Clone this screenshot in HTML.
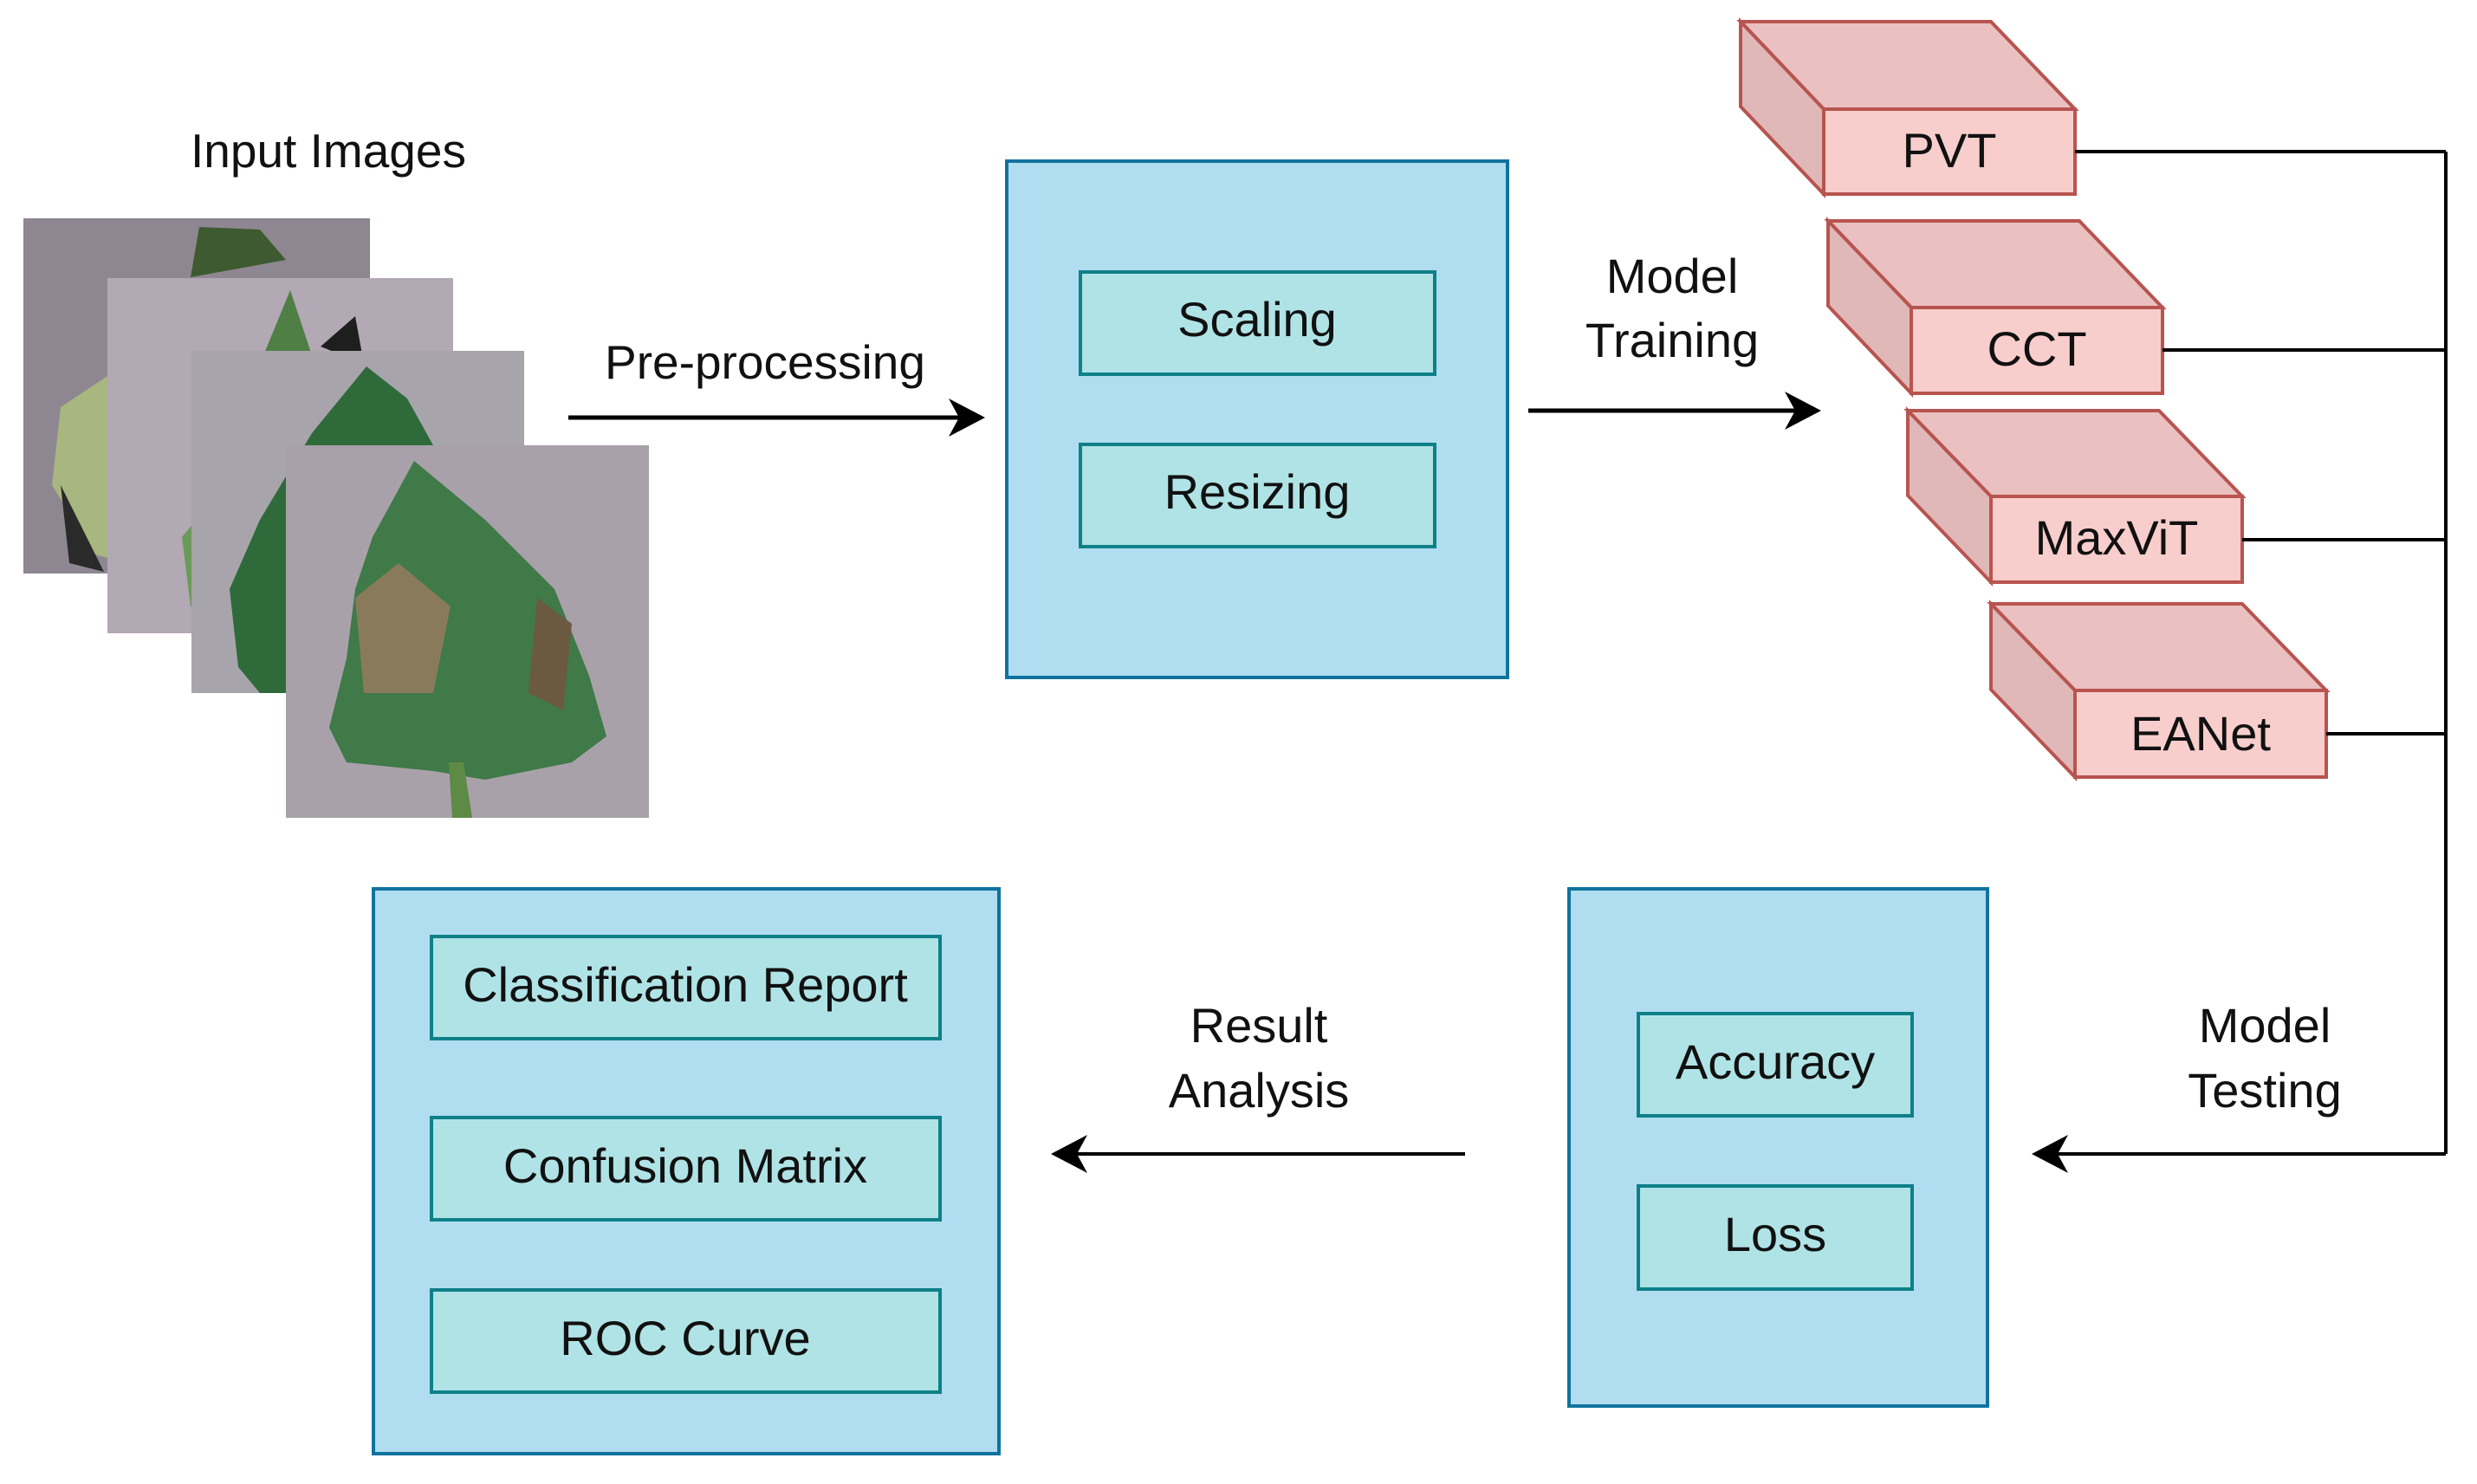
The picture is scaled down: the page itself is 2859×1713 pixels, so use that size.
<!DOCTYPE html>
<html><head><meta charset="utf-8"><style>
html,body{margin:0;padding:0;background:#fff}
svg{display:block}
text{font-family:"Liberation Sans",sans-serif;fill:#111}
</style></head><body>
<svg width="2859" height="1713" viewBox="0 0 2859 1713" xmlns="http://www.w3.org/2000/svg">
<rect width="2859" height="1713" fill="#fff"/>
<text x="379" y="193" font-size="55" text-anchor="middle">Input Images</text>
<!-- images -->
<rect x="27" y="252" width="400" height="410" fill="#8e8791"/>
<path d="M230 262 L300 265 L330 300 L220 320Z" fill="#3d5a30"/>
<path d="M110 640 L60 560 L70 470 L130 430 L200 420 L180 660Z" fill="#a8b680"/>
<path d="M70 560 L80 650 L120 660Z" fill="#2a2a2a"/>
<rect x="124" y="321" width="399" height="410" fill="#b2a9b4"/>
<path d="M300 420 L335 335 L360 410 L410 400 L380 480Z" fill="#4f7f45"/>
<path d="M370 400 L410 365 L420 420Z" fill="#1e1e1e"/>
<path d="M220 700 L210 620 L260 560 L240 720Z" fill="#6a9a5a"/>
<rect x="221" y="405" width="384" height="395" fill="#a8a4ab"/>
<path d="M275 770 L265 680 L300 600 L360 500 L423 423 L470 460 L500 514 L380 800 L300 800Z" fill="#2f6a3a"/>
<rect x="330" y="514" width="419" height="430" fill="#a9a1aa"/>
<path d="M478 532 L560 600 L640 680 L680 780 L700 850 L660 880 L560 900 L500 890 L400 880 L380 840 L400 760 L410 680 L430 620Z" fill="#3f7a48"/>
<path d="M410 690 L460 650 L520 700 L500 800 L420 800Z" fill="#8a7a5c"/>
<path d="M620 690 L660 720 L650 820 L610 800Z" fill="#6b5a40"/>
<path d="M518 880 L535 880 L545 944 L522 944Z" fill="#5d8a45"/>
<!-- pre-processing -->
<text x="883" y="437" font-size="55" text-anchor="middle">Pre-processing</text>
<line x1="656" y1="482" x2="1120" y2="482" stroke="#000" stroke-width="5"/>
<path d="M1137 482 L1095 460 L1107 482 L1095 504Z" fill="#000"/>
<rect x="1162" y="186" width="578" height="596" fill="#b1ddf0" stroke="#10739e" stroke-width="4"/>
<rect x="1247" y="314" width="409" height="118" fill="#b0e3e6" stroke="#0e8088" stroke-width="4"/>
<text x="1451" y="388" font-size="56" text-anchor="middle">Scaling</text>
<rect x="1247" y="513" width="409" height="118" fill="#b0e3e6" stroke="#0e8088" stroke-width="4"/>
<text x="1451" y="587" font-size="56" text-anchor="middle">Resizing</text>
<!-- model training -->
<text x="1930" y="338" font-size="56" text-anchor="middle">Model</text>
<text x="1930" y="412" font-size="56" text-anchor="middle">Training</text>
<line x1="1764" y1="474" x2="2085" y2="474" stroke="#000" stroke-width="5"/>
<path d="M2102 474 L2060 452 L2072 474 L2060 496Z" fill="#000"/>
<!-- 3D boxes -->
<g stroke="#b85450" stroke-width="4" stroke-linejoin="miter">
<path d="M2009 25 L2298 25 L2395 126 L2105 126Z" fill="#ebc0c0"/>
<path d="M2009 25 L2105 126 L2105 224 L2009 123Z" fill="#e0b8b8"/>
<rect x="2105" y="126" width="290" height="98" fill="#f8cecc"/>
<path d="M2110 255 L2400 255 L2496 355 L2206 355Z" fill="#ebc0c0"/>
<path d="M2110 255 L2206 355 L2206 454 L2110 353Z" fill="#e0b8b8"/>
<rect x="2206" y="355" width="290" height="99" fill="#f8cecc"/>
<path d="M2202 474 L2492 474 L2588 573 L2298 573Z" fill="#ebc0c0"/>
<path d="M2202 474 L2298 573 L2298 672 L2202 572Z" fill="#e0b8b8"/>
<rect x="2298" y="573" width="290" height="99" fill="#f8cecc"/>
<path d="M2298 697 L2588 697 L2685 797 L2395 797Z" fill="#ebc0c0"/>
<path d="M2298 697 L2395 797 L2395 897 L2298 796Z" fill="#e0b8b8"/>
<rect x="2395" y="797" width="290" height="100" fill="#f8cecc"/>
</g>
<text x="2250" y="193" font-size="56" text-anchor="middle">PVT</text>
<text x="2351" y="422" font-size="56" text-anchor="middle">CCT</text>
<text x="2443" y="640" font-size="56" text-anchor="middle">MaxViT</text>
<text x="2540" y="866" font-size="56" text-anchor="middle">EANet</text>
<!-- connectors -->
<g stroke="#000" stroke-width="4" fill="none">
<line x1="2395" y1="175" x2="2823" y2="175"/>
<line x1="2496" y1="404" x2="2823" y2="404"/>
<line x1="2588" y1="623" x2="2823" y2="623"/>
<line x1="2685" y1="847" x2="2823" y2="847"/>
<line x1="2823" y1="175" x2="2823" y2="1332"/>
<line x1="2823" y1="1332" x2="2362" y2="1332"/>
</g>
<path d="M2345 1332 L2387 1310 L2375 1332 L2387 1354Z" fill="#000"/>
<text x="2614" y="1203" font-size="56" text-anchor="middle">Model</text>
<text x="2614" y="1278" font-size="56" text-anchor="middle">Testing</text>
<!-- eval box -->
<rect x="1811" y="1026" width="483" height="597" fill="#b1ddf0" stroke="#10739e" stroke-width="4"/>
<rect x="1891" y="1170" width="316" height="118" fill="#b0e3e6" stroke="#0e8088" stroke-width="4"/>
<text x="2049" y="1245" font-size="56" text-anchor="middle">Accuracy</text>
<rect x="1891" y="1369" width="316" height="119" fill="#b0e3e6" stroke="#0e8088" stroke-width="4"/>
<text x="2049" y="1444" font-size="56" text-anchor="middle">Loss</text>
<!-- result analysis -->
<text x="1453" y="1203" font-size="56" text-anchor="middle">Result</text>
<text x="1453" y="1278" font-size="56" text-anchor="middle">Analysis</text>
<line x1="1691" y1="1332" x2="1230" y2="1332" stroke="#000" stroke-width="4"/>
<path d="M1213 1332 L1255 1310 L1243 1332 L1255 1354Z" fill="#000"/>
<!-- results box -->
<rect x="431" y="1026" width="722" height="652" fill="#b1ddf0" stroke="#10739e" stroke-width="4"/>
<rect x="498" y="1081" width="587" height="118" fill="#b0e3e6" stroke="#0e8088" stroke-width="4"/>
<text x="791" y="1156" font-size="56" text-anchor="middle">Classification Report</text>
<rect x="498" y="1290" width="587" height="118" fill="#b0e3e6" stroke="#0e8088" stroke-width="4"/>
<text x="791" y="1365" font-size="56" text-anchor="middle">Confusion Matrix</text>
<rect x="498" y="1489" width="587" height="118" fill="#b0e3e6" stroke="#0e8088" stroke-width="4"/>
<text x="791" y="1564" font-size="56" text-anchor="middle">ROC Curve</text>
</svg>
</body></html>
